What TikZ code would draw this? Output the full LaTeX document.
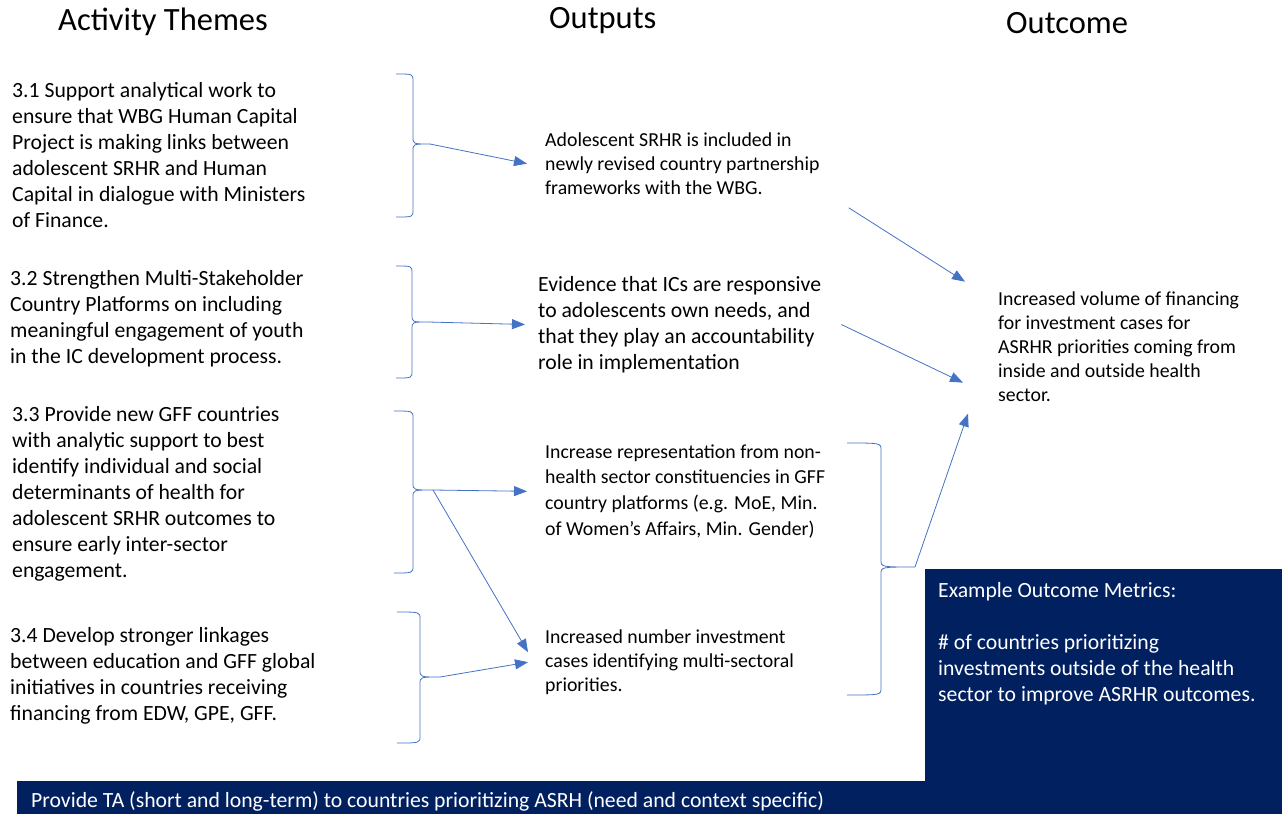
\documentclass[tikz,border=0pt]{standalone}
\usepackage{fontspec}
\setmainfont{Carlito}
\usepackage{tikz}
\usetikzlibrary{arrows.meta,calc,positioning}

\definecolor{linkblue}{RGB}{68,114,196}
\definecolor{navy}{RGB}{0,32,96}

% right brace: end x, spine x, top y, bottom y, cusp y, tip x, name of tip
\newcommand{\rbrk}[7]{%
\draw[brk] (#1,#3) .. controls (#2,#3) .. (#2,#3+7) -- (#2,#5-7)
  .. controls (#2,#5) .. (#6,#5) .. controls (#2,#5) .. (#2,#5+7)
  -- (#2,#4-7) .. controls (#2,#4) .. (#1,#4);
\coordinate (#7) at (#6,#5);}

\begin{document}
\begin{tikzpicture}[x=1pt,y=-1pt,
  head/.style={font=\fontsize{32.5}{36}\selectfont,anchor=west,inner sep=0},
  theme/.style={font=\fontsize{21.7}{26}\selectfont,align=left,anchor=north west,inner sep=0},
  outp/.style={font=\fontsize{19.8}{24}\selectfont,align=left,anchor=north west,inner sep=0},
  metric/.style={font=\fontsize{21.7}{26}\selectfont,align=left,anchor=north west,inner sep=0,text=white},
  brk/.style={linkblue,line width=0.8pt},
  link/.style={linkblue,line width=0.8pt,-{Triangle[length=13pt,width=10pt]}}]
\useasboundingbox (0,0) rectangle (1282,814);

% headings
\node[head] (hthemes) at (58,22) {Activity Themes};
\node[head] (houtputs) at (549,21) {Outputs};
\node[head] (houtcome) at (1006,23) {Outcome};

% activity themes
\node[theme] (t31) at (12,82) {3.1 Support analytical work to\\ensure that WBG Human Capital\\Project is making links between\\adolescent SRHR and Human\\Capital in dialogue with Ministers\\of Finance.};
\node[theme] (t32) at (10,270) {3.2 Strengthen Multi-Stakeholder\\Country Platforms on including\\meaningful engagement of youth\\in the IC development process.};
\node[theme] (t33) at (12,406) {3.3 Provide new GFF countries\\with analytic support to best\\identify individual and social\\determinants of health for\\adolescent SRHR outcomes to\\ensure early inter-sector\\engagement.};
\node[theme] (t34) at (10,627) {3.4 Develop stronger linkages\\between education and GFF global\\initiatives in countries receiving\\financing from EDW, GPE, GFF.};

% outputs
\node[outp] (out1) at (545,132.5) {Adolescent SRHR is included in\\newly revised country partnership\\frameworks with the WBG.};
\node[theme] (out2) at (538,276) {Evidence that ICs are responsive\\to adolescents own needs, and\\that they play an accountability\\role in implementation};
\node[outp,font=\fontsize{19.8}{25.6}\selectfont] (out3) at (545,444.5) {Increase representation from non-\\health sector constituencies in GFF\\country platforms (e.g. MoE, Min.\\of Women’s Affairs, Min. Gender)};
\node[outp] (out4) at (545,629.5) {Increased number investment\\cases identifying multi-sectoral\\priorities.};

% outcome
\node[outp] (outc) at (998,291.5) {Increased volume of financing\\for investment cases for\\ASRHR priorities coming from\\inside and outside health\\sector.};

% dark panels
\fill[navy] (925,569) rectangle (1282,814);
\fill[navy] (17,781) rectangle (925,814);
\node[metric] (metrics) at (938,582) {Example Outcome Metrics:\\[26pt]\# of countries prioritizing\\investments outside of the health\\sector to improve ASRHR outcomes.};
\node[metric,anchor=west] (ta) at (31,801) {Provide TA (short and long-term) to countries prioritizing ASRH (need and context specific)};

% braces
\rbrk{396}{413}{74}{217}{144}{430}{b1}
\rbrk{396}{412}{266}{378}{322}{428}{b2}
\rbrk{394}{413}{411}{573}{490}{433}{b3}
\rbrk{397}{420}{612}{743}{677}{440}{b4}
\rbrk{847}{881}{443}{695}{567}{915}{b5}

% connectors
\draw[link] (b1) -- ($(out1.west)+(-18,0)$);
\draw[link] (b2) -- ($(out2.west)+(-13,0)$);
\draw[link] (b3) -- ($(out3.west)+(-18,0)$);
\draw[link] (b3) -- ($(out4.west)+(-17,-10)$);
\draw[link] (b4) -- ($(out4.west)+(-17,0)$);
\draw[link] ($(out1.south east)+(29,13)$) -- ($(outc.west)+(-33,-65)$);
\draw[link] ($(out2.east)+(20,0)$) -- ($(outc.west)+(-35,36)$);
\draw[link] (b5) -- ($(outc.west)+(-30,67)$);
\end{tikzpicture}
\end{document}
